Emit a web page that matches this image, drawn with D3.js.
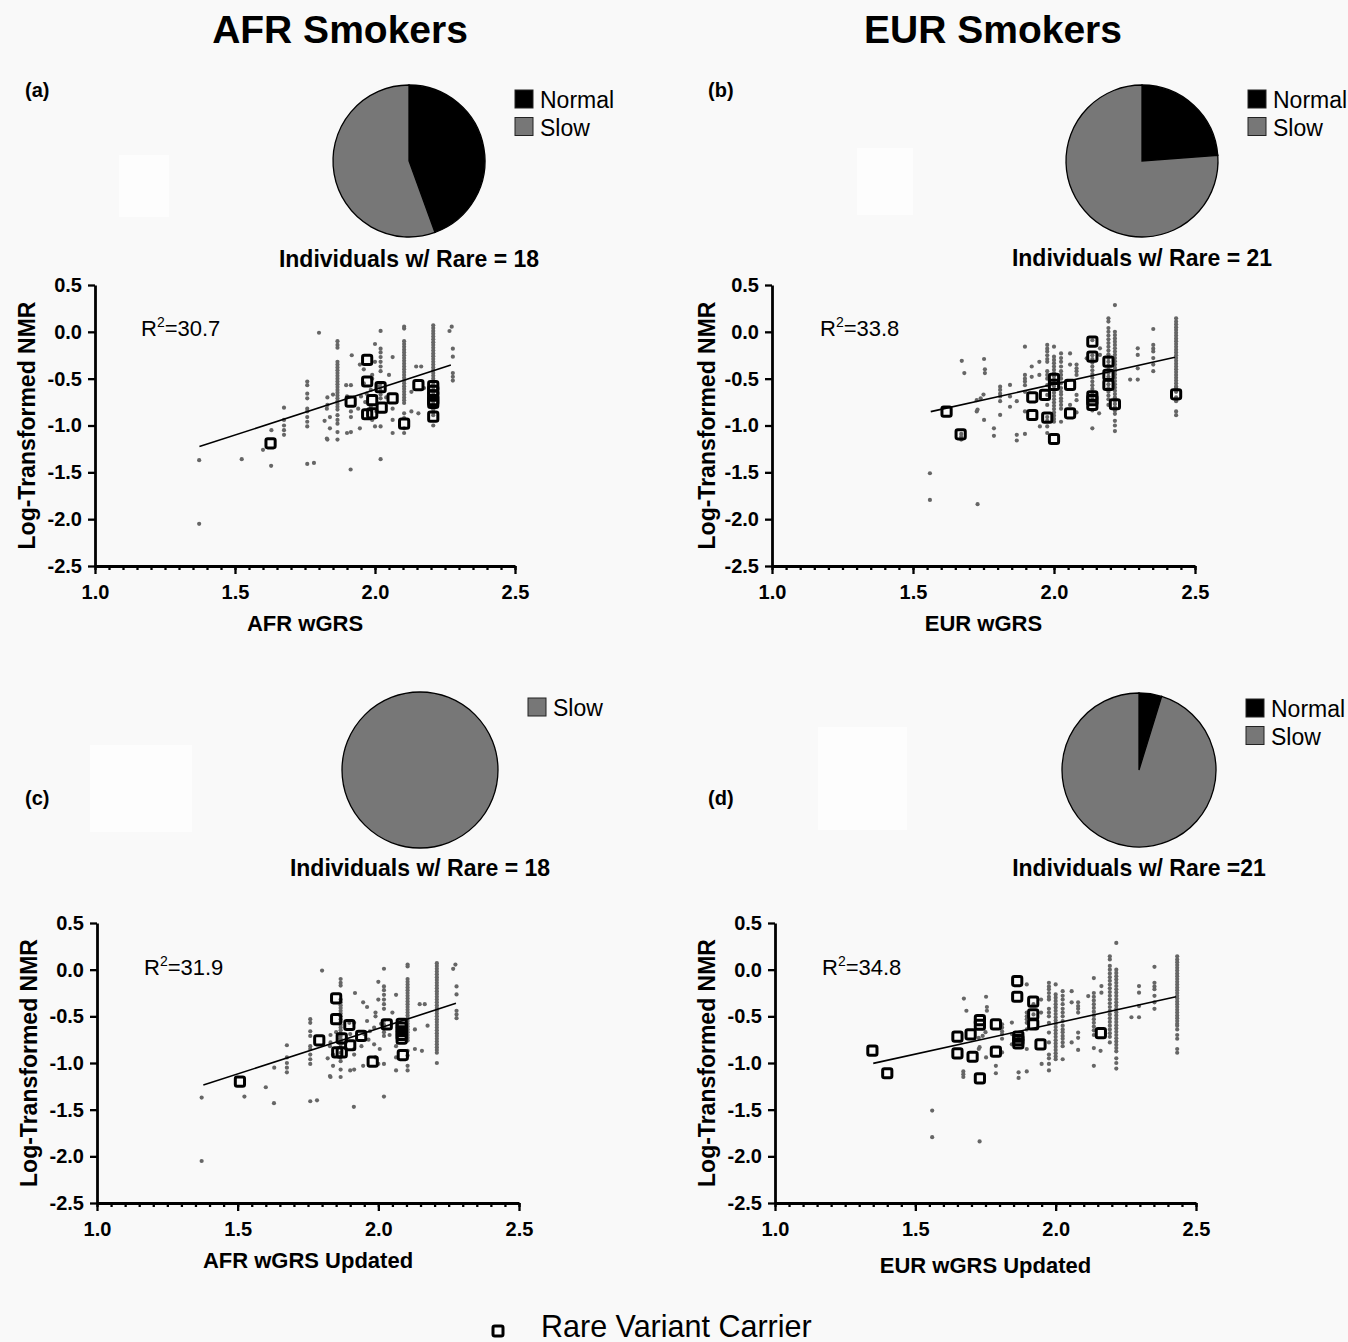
<!DOCTYPE html>
<html>
<head>
<meta charset="utf-8">
<script src="https://cdn.jsdelivr.net/npm/d3@7"></script>
<style>
  body { margin: 0; background: #f9f9f9; }
  svg { display: block; font-family: "Liberation Sans", Arial, sans-serif; }
</style>
</head>
<body>
<svg id="chart" width="1348" height="1342"></svg>
<script>
// ---------- data ----------
const titles = ["AFR Smokers", "EUR Smokers"];
const metabolizer = ["Normal", "Slow"];
const pieAfr = [8, 10];
const pieEur = [5, 16];
const pieAfrUpd = [0, 18];
const pieEurUpd = [1, 20];
const pieTitles = ["Individuals w/ Rare = 18", "Individuals w/ Rare = 21",
                   "Individuals w/ Rare = 18", "Individuals w/ Rare =21"];
const rSquared = ["30.7", "33.8", "31.9", "34.8"];
const xLabels = ["AFR wGRS", "EUR wGRS", "AFR wGRS Updated", "EUR wGRS Updated"];
const xTicks = [1.0, 1.5, 2.0, 2.5];
const yTicks = [0.5, 0.0, -0.5, -1.0, -1.5, -2.0, -2.5];

// AFR individuals (same in a and c), scattered points
const afrDots = [
  [1.372,-1.37],[1.372,-2.05],[1.524,-1.36],[1.600,-1.26],[1.629,-1.43],[1.630,-1.05],
  [1.675,-0.81],[1.675,-0.94],[1.675,-1.00],[1.675,-1.05],[1.675,-1.10],
  [1.758,-0.53],[1.758,-0.57],[1.758,-0.66],[1.758,-0.71],[1.758,-0.82],[1.758,-0.85],
  [1.758,-0.91],[1.758,-0.96],[1.758,-1.01],[1.758,-1.41],[1.782,-1.40],
  [1.800,-0.01],[1.830,-0.78],[1.830,-1.15],[1.828,-0.82],[1.839,-0.91],[1.839,-1.03],
  [1.828,-1.14],[1.850,-0.67],[1.830,-0.70],[1.820,-0.95],
  [1.897,-0.57],[1.914,-0.57],[1.900,-1.08],[1.914,-1.07],[1.917,-0.25],[1.914,-0.91],
  [1.914,-0.85],[1.946,-1.03],[1.940,-0.82],[1.946,-0.35],[1.950,-0.69],[1.913,-1.47],[1.900,-0.69],
  [2.000,-0.13],[2.000,-0.32],[1.990,-0.46],[1.990,-0.50],[2.000,-1.01],[1.990,-0.94],
  [1.960,-0.40],[1.985,-0.62],[1.960,-0.55],[1.965,-0.75],[1.985,-0.80],[2.005,-0.85],
  [2.010,-0.58],[1.970,-0.66],
  [2.050,-0.46],[2.063,-0.27],[2.063,-0.82],[2.063,-0.94],[2.063,-1.08],[2.040,-0.70],
  [2.130,-0.64],[2.130,-0.85],[2.147,-0.37],[2.165,-0.37],[2.155,-0.87],[2.175,-0.60],
  [2.274,0.055],[2.266,0.009],[2.278,-0.18],[2.278,-0.265],[2.278,-0.44],[2.278,-0.48],[2.278,-0.52]
];
// AFR individuals stacked at one wGRS value: [x, list of y]
const afrStripes = [
  [1.866, [-0.10,-0.14,-0.17,-0.32,-0.35,-0.38,-0.41,-0.44,-0.47,-0.50,-0.53,-0.56,-0.59,-0.62,
           -0.65,-0.68,-0.71,-0.74,-0.77,-0.80,-0.83,-0.89,-0.94,-0.98,-1.07,-1.15]],
  [2.020, [0.01,-0.18,-0.22,-0.27,-0.32,-0.37,-0.42,-0.55,-0.59,-0.63,-0.67,-0.71,-1.01,-1.36]],
  [2.104, [0.055,0.035,-0.10,-0.13,-0.16,-0.19,-0.22,-0.25,-0.28,-0.31,-0.34,-0.37,-0.40,-0.43,
           -0.46,-0.49,-0.52,-0.55,-0.58,-0.61,-0.64,-0.67,-0.70,-0.73,-0.76,-0.87,-0.92,-1.03,-1.08]],
  [2.208, [0.07,0.04,0.01,-0.02,-0.05,-0.08,-0.11,-0.14,-0.17,-0.20,-0.23,-0.26,-0.29,-0.32,-0.35,
           -0.38,-0.41,-0.44,-0.47,-0.50,-0.53,-0.56,-0.59,-0.62,-0.65,-0.68,-0.71,-0.74,-0.77,
           -0.80,-0.83,-0.86,-0.89,-1.00]]
];
const afrRare = [
  [1.627,-1.19],[1.913,-0.745],[1.972,-0.30],[1.972,-0.53],[1.972,-0.88],[1.990,-0.73],
  [1.990,-0.87],[2.020,-0.59],[2.024,-0.81],[2.063,-0.71],[2.104,-0.98],[2.155,-0.57],
  [2.208,-0.58],[2.208,-0.63],[2.208,-0.68],[2.208,-0.73],[2.208,-0.76],[2.208,-0.905]
];
const afrRareUpd = [
  [1.508,-1.20],[1.790,-0.757],[1.850,-0.307],[1.850,-0.53],[1.854,-0.886],[1.870,-0.886],
  [1.870,-0.736],[1.897,-0.593],[1.900,-0.81],[1.939,-0.71],[1.980,-0.986],[2.030,-0.586],
  [2.083,-0.58],[2.083,-0.62],[2.083,-0.66],[2.083,-0.70],[2.083,-0.74],[2.087,-0.915]
];
const afrFit = [[1.373,-1.225],[2.271,-0.354]];
const afrFitUpd = [[1.378,-1.236],[2.276,-0.361]];

// EUR individuals (same in b and d)
const eurDots = [
  [1.560,-1.51],[1.560,-1.795],[1.729,-1.84],[1.673,-0.31],[1.682,-0.44],[1.752,-0.29],
  [1.755,-0.40],[1.755,-0.44],[1.726,-0.73],[1.726,-0.85],[1.729,-0.83],[1.752,-0.94],
  [1.740,-0.71],[1.750,-0.67],[1.671,-1.09],[1.671,-1.12],[1.671,-1.15],
  [1.787,-1.03],[1.787,-1.11],[1.868,-1.10],[1.868,-1.16],[1.897,-1.09],[1.868,-0.74],
  [1.809,-0.585],[1.809,-0.62],[1.809,-0.66],[1.809,-0.69],[1.809,-0.74],[1.809,-0.887],
  [1.844,-0.567],[1.844,-0.69],[1.844,-0.80],
  [1.897,-0.158],[1.897,-0.46],[1.897,-0.50],[1.897,-0.53],[1.897,-0.57],[1.897,-0.64],[1.897,-0.85],
  [1.921,-0.37],[1.921,-0.48],[1.950,-1.01],[1.948,-0.32],[1.948,-0.46],[2.000,-0.158],
  [2.057,-0.23],[2.057,-0.35],[2.057,-0.78],[2.080,-0.35],[2.080,-0.39],[2.080,-0.42],
  [2.080,-0.46],[2.080,-0.674],[2.080,-0.73],[2.080,-0.86],
  [2.116,-0.283],[2.136,-1.03],[2.163,-0.176],[2.163,-0.247],[2.160,-0.87],
  [2.216,0.286],[2.270,-0.51],[2.297,-0.176],[2.297,-0.247],[2.297,-0.39],[2.297,-0.51],
  [2.352,0.03],[2.352,-0.14],[2.352,-0.18],[2.352,-0.21],[2.352,-0.28],[2.352,-0.35],[2.352,-0.42],
  [2.433,-0.85],[2.433,-0.89]
];
const eurStripes = [
  [1.976, [-0.14,-0.18,-0.21,-0.25,-0.29,-0.32,-0.42,-0.46,-0.50,-0.57,-0.674,-0.78,-0.91,-0.95,-1.01,-1.08]],
  [2.000, [-0.265,-0.30,-0.335,-0.37,-0.405,-0.44,-0.475,-0.51,-0.545,-0.58,-0.615,-0.65,-0.685,
           -0.72,-0.755,-0.79,-0.825,-0.86,-0.895,-0.93,-0.96]],
  [2.025, [-0.23,-0.28,-0.32,-0.37,-0.42,-0.46,-0.50,-0.55,-0.60,-0.64,-0.67,-0.71,-0.74,-0.78,-0.82,-0.96]],
  [2.136, [-0.09,-0.25,-0.29,-0.33,-0.37,-0.41,-0.45,-0.49,-0.53,-0.57,-0.61,-0.65,-0.70,-0.84]],
  [2.193, [0.144,0.11,0.04,0.00,-0.04,-0.08,-0.12,-0.16,-0.20,-0.24,-0.28,-0.32,-0.36,-0.40,
           -0.44,-0.48,-0.52,-0.56,-0.60,-0.64,-0.68,-0.72,-0.78]],
  [2.216, [0.00,-0.035,-0.07,-0.105,-0.14,-0.175,-0.21,-0.245,-0.28,-0.315,-0.35,-0.385,-0.42,
           -0.455,-0.49,-0.525,-0.56,-0.595,-0.63,-0.665,-0.70,-0.735,-0.77,-0.805,-0.84,-0.875,
           -0.95,-1.00,-1.06]],
  [2.433, [0.144,0.11,0.08,0.05,0.02,-0.01,-0.04,-0.07,-0.10,-0.13,-0.16,-0.19,-0.22,-0.25,-0.28,
           -0.31,-0.34,-0.37,-0.40,-0.43,-0.46,-0.49,-0.52,-0.55,-0.58,-0.60,-0.64,-0.70,-0.74]]
];
const eurRare = [
  [1.619,-0.852],[1.669,-1.094],[1.923,-0.699],[1.923,-0.888],[1.968,-0.674],[1.976,-0.916],
  [2.000,-0.503],[2.000,-0.567],[2.000,-1.144],[2.057,-0.567],[2.057,-0.87],[2.136,-0.105],
  [2.136,-0.265],[2.136,-0.69],[2.136,-0.73],[2.136,-0.78],[2.193,-0.318],[2.193,-0.46],
  [2.193,-0.567],[2.216,-0.773],[2.433,-0.667]
];
const eurRareUpd = [
  [1.347,-0.868],[1.400,-1.11],[1.650,-0.718],[1.650,-0.897],[1.697,-0.693],[1.704,-0.933],
  [1.730,-0.54],[1.730,-0.59],[1.730,-1.165],[1.787,-0.586],[1.787,-0.879],[1.863,-0.122],
  [1.863,-0.29],[1.867,-0.718],[1.867,-0.755],[1.867,-0.79],[1.920,-0.343],[1.920,-0.479],
  [1.920,-0.586],[1.946,-0.80],[2.161,-0.68]
];
const eurFit = [[1.563,-0.852],[2.429,-0.272]];
const eurFitUpd = [[1.350,-1.004],[2.429,-0.290]];

// ---------- layout ----------
const svg = d3.select("#chart");
const fmt = d => d.toFixed(1);
const pieColor = ["#000000", "#777777"];
const dotColor = "#666666";

function expand(dots, stripes) {
  return dots.concat(stripes.flatMap(([x, ys]) => ys.map(y => [x, y])));
}
const afrAll = expand(afrDots, afrStripes);
const eurAll = expand(eurDots, eurStripes);

// faint white patches present in the original figure
[[119,155,50,62],[857,148,56,67],[90,745,102,87],[818,727,89,103]].forEach(r =>
  svg.append("rect").attr("x", r[0]).attr("y", r[1]).attr("width", r[2]).attr("height", r[3]).attr("fill", "#fdfdfd"));

svg.selectAll("text.title").data(titles).join("text")
  .attr("class", "title")
  .attr("x", (d, i) => [340, 993][i]).attr("y", 43)
  .attr("text-anchor", "middle")
  .style("font-size", "39px").style("font-weight", "bold")
  .text(d => d);

const panels = [
  {tag: "(a)", tagPos: [25, 97], xr: [95, 515], yr: [566, 285], dots: afrAll, rare: afrRare, fit: afrFit,
   r2: rSquared[0], r2Pos: [141, 336], xLabel: xLabels[0], xLabelY: 631, tickY: 11, yLabelX: 27,
   pie: pieAfr, pieC: [409, 161], pieR: 76, pieTitle: pieTitles[0], pieTitleY: 267,
   legend: [515, 90], legendKeys: [0, 1]},
  {tag: "(b)", tagPos: [708, 97], xr: [772, 1195], yr: [566, 285], dots: eurAll, rare: eurRare, fit: eurFit,
   r2: rSquared[1], r2Pos: [820, 336], xLabel: xLabels[1], xLabelY: 631, tickY: 11, yLabelX: 707,
   pie: pieEur, pieC: [1142, 161], pieR: 76, pieTitle: pieTitles[1], pieTitleY: 266,
   legend: [1248, 90], legendKeys: [0, 1]},
  {tag: "(c)", tagPos: [25, 805], xr: [97, 519], yr: [1203, 923], dots: afrAll, rare: afrRareUpd, fit: afrFitUpd,
   r2: rSquared[2], r2Pos: [144, 975], xLabel: xLabels[2], xLabelY: 1268, tickY: 11, yLabelX: 29,
   pie: pieAfrUpd, pieC: [420, 770], pieR: 78, pieTitle: pieTitles[2], pieTitleY: 876,
   legend: [528, 698], legendKeys: [1]},
  {tag: "(d)", tagPos: [708, 805], xr: [775, 1196], yr: [1203, 923], dots: eurAll, rare: eurRareUpd, fit: eurFitUpd,
   r2: rSquared[3], r2Pos: [822, 975], xLabel: xLabels[3], xLabelY: 1273, tickY: 11, yLabelX: 707,
   pie: pieEurUpd, pieC: [1139, 770], pieR: 77, pieTitle: pieTitles[3], pieTitleY: 876,
   legend: [1246, 699], legendKeys: [0, 1]}
];

const pie = d3.pie().sort(null);

panels.forEach(p => {
  const g = svg.append("g");
  const x = d3.scaleLinear().domain([1, 2.5]).range(p.xr);
  const y = d3.scaleLinear().domain([-2.5, 0.5]).range(p.yr);

  // panel tag
  g.append("text").attr("x", p.tagPos[0]).attr("y", p.tagPos[1])
    .style("font-size", "20px").style("font-weight", "bold").text(p.tag);

  // pie
  const arc = d3.arc().innerRadius(0).outerRadius(p.pieR);
  g.append("g").attr("transform", `translate(${p.pieC[0]},${p.pieC[1]})`)
    .selectAll("path").data(pie(p.pie).filter(d => d.value > 0)).join("path")
    .attr("d", arc)
    .attr("fill", d => pieColor[d.index])
    .attr("stroke", "#000").attr("stroke-width", 1.3);

  g.append("text").attr("x", p.pieC[0]).attr("y", p.pieTitleY)
    .attr("text-anchor", "middle")
    .style("font-size", "23px").style("font-weight", "bold").text(p.pieTitle);

  // pie legend
  const lg = g.append("g").attr("transform", `translate(${p.legend[0]},${p.legend[1]})`);
  p.legendKeys.forEach((k, j) => {
    lg.append("rect").attr("x", 0).attr("y", j * 27.5).attr("width", 18).attr("height", 18)
      .attr("fill", pieColor[k]).attr("stroke", "#222").attr("stroke-width", 1);
    lg.append("text").attr("x", 25).attr("y", j * 27.5 + 18)
      .style("font-size", "23px").text(metabolizer[k]);
  });

  // axes: minor x ticks, major x ticks, y ticks
  const xMinor = g.append("g").attr("transform", `translate(0,${p.yr[0]})`)
    .call(d3.axisBottom(x).tickValues(d3.range(1, 2.5001, 0.05)).tickSize(4).tickSizeOuter(0).tickFormat(""));
  xMinor.select(".domain").remove();
  const xAxis = g.append("g").attr("transform", `translate(0,${p.yr[0]})`)
    .call(d3.axisBottom(x).tickValues(xTicks).tickSize(8).tickSizeOuter(0).tickPadding(p.tickY).tickFormat(fmt));
  const yAxis = g.append("g").attr("transform", `translate(${p.xr[0]},0)`)
    .call(d3.axisLeft(y).tickValues(yTicks).tickSize(7).tickSizeOuter(0).tickPadding(6).tickFormat(fmt));

  [xMinor, xAxis, yAxis].forEach(a => {
    a.selectAll("line").attr("stroke", "#000").attr("stroke-width", 2.3);
    a.selectAll(".domain").attr("stroke", "#000").attr("stroke-width", 2.8);
    a.selectAll("text").attr("fill", "#000")
      .style("font-family", '"Liberation Sans", Arial, sans-serif')
      .style("font-size", "20px").style("font-weight", "bold");
  });

  // axis titles
  g.append("text").attr("x", (p.xr[0] + p.xr[1]) / 2).attr("y", p.xLabelY)
    .attr("text-anchor", "middle")
    .style("font-size", "22px").style("font-weight", "bold").text(p.xLabel);
  g.append("text")
    .attr("transform", `translate(${p.yLabelX},${(p.yr[0] + p.yr[1]) / 2}) rotate(-90)`)
    .attr("dy", "0.36em").attr("text-anchor", "middle")
    .style("font-size", "23px").style("font-weight", "bold").text("Log-Transformed NMR");

  // R^2
  const r2 = g.append("text").attr("x", p.r2Pos[0]).attr("y", p.r2Pos[1]).style("font-size", "22px");
  r2.append("tspan").text("R");
  r2.append("tspan").attr("dy", -9).style("font-size", "14px").text("2");
  r2.append("tspan").attr("dy", 9).text("=" + p.r2);

  // points
  g.append("g").selectAll("circle").data(p.dots).join("circle")
    .attr("cx", d => x(d[0])).attr("cy", d => y(d[1]))
    .attr("r", 2.1).attr("fill", dotColor);

  // regression line
  g.append("path").datum(p.fit)
    .attr("d", d3.line().x(d => x(d[0])).y(d => y(d[1])))
    .attr("fill", "none").attr("stroke", "#000").attr("stroke-width", 1.6);

  // rare variant carriers
  g.append("g").selectAll("rect").data(p.rare).join("rect")
    .attr("x", d => x(d[0]) - 4.6).attr("y", d => y(d[1]) - 4.6)
    .attr("width", 9.2).attr("height", 9.2).attr("rx", 1.8)
    .attr("fill", "none").attr("stroke", "#000").attr("stroke-width", 3);
});

// bottom legend
svg.append("rect").attr("x", 493).attr("y", 1326).attr("width", 10).attr("height", 10).attr("rx", 1.8)
  .attr("fill", "none").attr("stroke", "#000").attr("stroke-width", 3);
svg.append("text").attr("x", 541).attr("y", 1337).style("font-size", "30.5px").text("Rare Variant Carrier");
</script>
</body>
</html>
